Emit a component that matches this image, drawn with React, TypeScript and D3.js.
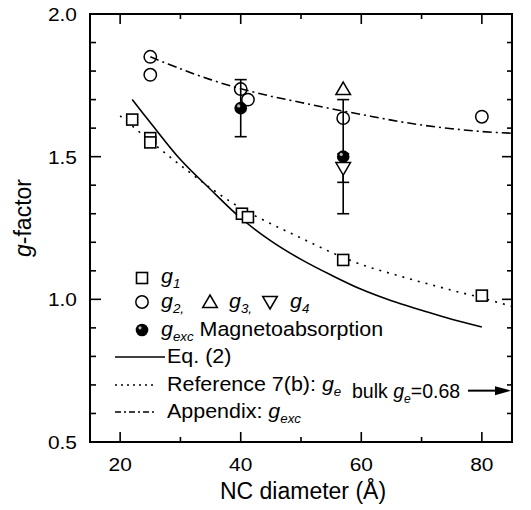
import React from "react";
import * as d3 from "d3";

// ---- data ----
const g1Points: [number, number][] = [
  [22, 1.63], [25, 1.565], [25, 1.55], [40.2, 1.3], [41.2, 1.288], [57, 1.138], [80, 1.013],
];
const g2Points: [number, number][] = [
  [25, 1.85], [25, 1.787], [40, 1.737], [41.2, 1.7], [57, 1.635], [80, 1.64],
];
const g3Points: [number, number][] = [[57, 1.737]];
const g4Points: [number, number, number][] = [[57, 1.46, 0.05]];
const gexcPoints: [number, number, number][] = [[40, 1.67, 0.1], [57, 1.5, 0.2]];

const eqX = [22, 25, 30, 35, 40, 45, 50, 55, 60, 65, 70, 75, 80];
const eqY = [1.7, 1.62, 1.49, 1.385, 1.285, 1.205, 1.14, 1.085, 1.035, 0.995, 0.962, 0.93, 0.903];
const refX = [20, 25, 30, 35, 40, 45, 50, 55, 60, 65, 70, 75, 80, 85];
const refY = [1.643, 1.555, 1.47, 1.39, 1.32, 1.265, 1.215, 1.165, 1.122, 1.09, 1.06, 1.032, 1.005, 0.975];
const appX = [25, 30, 35, 40, 45, 50, 55, 60, 65, 70, 75, 80, 85];
const appY = [1.85, 1.808, 1.77, 1.738, 1.712, 1.69, 1.668, 1.648, 1.628, 1.611, 1.598, 1.588, 1.582];

const xMajor = [20, 40, 60, 80];
const xMinor = [30, 50, 70];
const yMajor = [0.5, 1.0, 1.5, 2.0];
const yMinor = [0.6, 0.7, 0.8, 0.9, 1.1, 1.2, 1.3, 1.4, 1.6, 1.7, 1.8, 1.9];
const bulkGe = 0.68;

// ---- layout ----
const W = 531, H = 510;
const L = 90, R = 512, T = 14, B = 442;
const FONT = "'Liberation Sans', Arial, Helvetica, sans-serif";

const x = d3.scaleLinear().domain([15, 85]).range([L, R]);
const y = d3.scaleLinear().domain([0.5, 2.0]).range([B, T]);

const lineGen = d3.line<[number, number]>()
  .x((d) => x(d[0]))
  .y((d) => y(d[1]))
  .curve(d3.curveCatmullRom);

const zip = (a: number[], b: number[]) => a.map((v, i) => [v, b[i]] as [number, number]);

function Txt({ x: tx, y: ty, size, sx = 1, anchor = "start", children, rotate = 0 }: any) {
  return (
    <text
      transform={`translate(${tx},${ty}) rotate(${rotate}) scale(${sx},1)`}
      fontSize={size}
      fontFamily={FONT}
      textAnchor={anchor}
      fill="#000"
    >
      {children}
    </text>
  );
}

// italic base with subscript, followed optionally by normal text back on the baseline
const sub = (base: string, s: string, size: number, rest?: string) => (
  <>
    <tspan fontStyle="italic">{base}</tspan>
    <tspan fontStyle="italic" fontSize={size * 0.62} dy={5}>{s}</tspan>
    {rest ? <tspan dy={-5}>{rest}</tspan> : null}
  </>
);

const Square = ({ cx, cy }: any) => (
  <rect x={cx - 5.5} y={cy - 5.5} width={11} height={11} fill="#fff" stroke="#000" strokeWidth={1.6} />
);
const Circle = ({ cx, cy }: any) => (
  <circle cx={cx} cy={cy} r={6.2} fill="none" stroke="#000" strokeWidth={1.5} />
);
const TriUp = ({ cx, cy }: any) => (
  <path d={`M${cx},${cy - 7} L${cx + 7.3},${cy + 5.5} L${cx - 7.3},${cy + 5.5} Z`} fill="#fff" stroke="#000" strokeWidth={1.5} />
);
const TriDown = ({ cx, cy }: any) => (
  <path d={`M${cx},${cy + 7} L${cx + 7.3},${cy - 5.5} L${cx - 7.3},${cy - 5.5} Z`} fill="#fff" stroke="#000" strokeWidth={1.5} />
);
const Filled = ({ cx, cy }: any) => (
  <g>
    <circle cx={cx} cy={cy} r={6.3} fill="#000" />
    <circle cx={cx - 2} cy={cy - 2.2} r={1.6} fill="#bbb" />
  </g>
);

const ErrBar = ({ cx, v, e }: any) => (
  <g stroke="#000" strokeWidth={1.6}>
    <line x1={x(cx)} x2={x(cx)} y1={y(v - e)} y2={y(v + e)} />
    <line x1={x(cx) - 6} x2={x(cx) + 6} y1={y(v - e)} y2={y(v - e)} />
    <line x1={x(cx) - 6} x2={x(cx) + 6} y1={y(v + e)} y2={y(v + e)} />
  </g>
);

export default function App() {
  const LS = 19.5; // legend font size
  const LSX = 1.1;
  return (
    <svg width={W} height={H} style={{ position: "absolute", left: 0, top: 0, background: "#fff" }}>
      <rect x={0} y={0} width={W} height={H} fill="#fff" />
      {/* curves */}
      <path d={lineGen(zip(eqX, eqY)) || ""} fill="none" stroke="#000" strokeWidth={1.6} />
      <path d={lineGen(zip(refX, refY)) || ""} fill="none" stroke="#000" strokeWidth={1.6} strokeDasharray="2,6" />
      <path d={lineGen(zip(appX, appY)) || ""} fill="none" stroke="#000" strokeWidth={1.6} strokeDasharray="9,4,2,4" />

      {/* error bars */}
      {gexcPoints.map((d, i) => <ErrBar key={"e" + i} cx={d[0]} v={d[1]} e={d[2]} />)}
      {g4Points.map((d, i) => <ErrBar key={"e4" + i} cx={d[0]} v={d[1]} e={d[2]} />)}

      {/* markers */}
      {g1Points.map((d, i) => <Square key={"s" + i} cx={x(d[0])} cy={y(d[1])} />)}
      {g2Points.map((d, i) => <Circle key={"c" + i} cx={x(d[0])} cy={y(d[1])} />)}
      {g3Points.map((d, i) => <TriUp key={"t" + i} cx={x(d[0])} cy={y(d[1])} />)}
      {g4Points.map((d, i) => <TriDown key={"d" + i} cx={x(d[0])} cy={y(d[1])} />)}
      {gexcPoints.map((d, i) => <Filled key={"f" + i} cx={x(d[0])} cy={y(d[1])} />)}

      {/* frame */}
      <rect x={L} y={T} width={R - L} height={B - T} fill="none" stroke="#000" strokeWidth={2} />
      {/* ticks */}
      <g stroke="#000" strokeWidth={1.6}>
        {xMajor.map((v) => (
          <g key={"xM" + v}>
            <line x1={x(v)} x2={x(v)} y1={B} y2={B - 10} />
            <line x1={x(v)} x2={x(v)} y1={T} y2={T + 10} />
          </g>
        ))}
        {xMinor.map((v) => (
          <g key={"xm" + v}>
            <line x1={x(v)} x2={x(v)} y1={B} y2={B - 5} />
            <line x1={x(v)} x2={x(v)} y1={T} y2={T + 5} />
          </g>
        ))}
        {yMajor.map((v) => (
          <g key={"yM" + v}>
            <line x1={L} x2={L + 11} y1={y(v)} y2={y(v)} />
            <line x1={R} x2={R - 10} y1={y(v)} y2={y(v)} />
          </g>
        ))}
        {yMinor.map((v) => (
          <g key={"ym" + v}>
            <line x1={L} x2={L + 6} y1={y(v)} y2={y(v)} />
            <line x1={R} x2={R - 5} y1={y(v)} y2={y(v)} />
          </g>
        ))}
      </g>
      {/* tick labels */}
      {yMajor.map((v) => (
        <Txt key={"yl" + v} x={77} y={y(v) + 7} size={19} sx={1.1} anchor="end">{v.toFixed(1)}</Txt>
      ))}
      {xMajor.map((v) => (
        <Txt key={"xl" + v} x={x(v)} y={471} size={19} sx={1.1} anchor="middle">{String(v)}</Txt>
      ))}
      {/* axis titles */}
      <Txt x={303} y={499} size={23} anchor="middle">NC diameter (Å)</Txt>
      <Txt x={31} y={218} size={23} anchor="middle" rotate={-90}>
        <tspan fontStyle="italic">g</tspan>
        <tspan>-factor</tspan>
      </Txt>

      {/* legend */}
      <Square cx={142} cy={278} />
      <Txt x={161} y={283} size={LS} sx={LSX}>{sub("g", "1", LS)}</Txt>
      <Circle cx={142} cy={302} />
      <Txt x={161} y={308} size={LS} sx={LSX}>{sub("g", "2,", LS)}</Txt>
      <TriUp cx={210} cy={302} />
      <Txt x={229} y={308} size={LS} sx={LSX}>{sub("g", "3,", LS)}</Txt>
      <TriDown cx={270} cy={302} />
      <Txt x={290} y={308} size={LS} sx={LSX}>{sub("g", "4", LS)}</Txt>
      <Filled cx={142} cy={330} />
      <Txt x={161} y={336} size={LS} sx={LSX}>{sub("g", "exc", LS, " Magnetoabsorption")}</Txt>
      <line x1={115} x2={165} y1={357} y2={357} stroke="#000" strokeWidth={1.6} />
      <Txt x={167} y={363} size={LS} sx={LSX}>Eq. (2)</Txt>
      <line x1={115} x2={157} y1={385} y2={385} stroke="#000" strokeWidth={1.6} strokeDasharray="2,4" />
      <Txt x={167} y={391} size={LS} sx={LSX}>
        <tspan>Reference 7(b): </tspan>
        {sub("g", "e", LS)}
      </Txt>
      <line x1={115} x2={157} y1={412} y2={412} stroke="#000" strokeWidth={1.6} strokeDasharray="6,3,2,3" />
      <Txt x={167} y={418} size={LS} sx={LSX}>
        <tspan>Appendix: </tspan>
        {sub("g", "exc", LS)}
      </Txt>

      {/* bulk arrow */}
      <Txt x={352} y={398} size={LS} sx={1.0}>
        <tspan>bulk </tspan>
        {sub("g", "e", LS, "=0.68")}
      </Txt>
      <line x1={468} x2={498} y1={y(bulkGe)} y2={y(bulkGe)} stroke="#000" strokeWidth={2} />
      <path d={`M${R - 1},${y(bulkGe)} L${R - 17},${y(bulkGe) - 4.5} L${R - 17},${y(bulkGe) + 4.5} Z`} fill="#000" />
    </svg>
  );
}
